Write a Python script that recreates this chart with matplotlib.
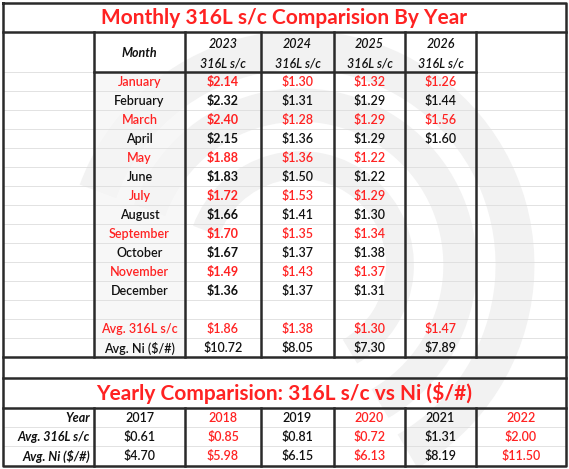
import matplotlib
matplotlib.use("Agg")
import matplotlib.pyplot as plt
from matplotlib.patches import Arc

months = ["January","February","March","April","May","June","July","August",
          "September","October","November","December"]
years_m = ["2023","2024","2025","2026"]
v2023 = ["$2.14","$2.32","$2.40","$2.15","$1.88","$1.83","$1.72","$1.66","$1.70","$1.67","$1.49","$1.36"]
v2024 = ["$1.30","$1.31","$1.28","$1.36","$1.36","$1.50","$1.53","$1.41","$1.35","$1.37","$1.43","$1.37"]
v2025 = ["$1.32","$1.29","$1.29","$1.29","$1.22","$1.22","$1.29","$1.30","$1.34","$1.38","$1.37","$1.31"]
v2026 = ["$1.26","$1.44","$1.56","$1.60","","","","","","","",""]
avg316 = ["$1.86","$1.38","$1.30","$1.47"]
avgni = ["$10.72","$8.05","$7.30","$7.89"]
years_y = ["2017","2018","2019","2020","2021","2022"]
y316 = ["$0.61","$0.85","$0.81","$0.72","$1.31","$2.00"]
yni = ["$4.70","$5.98","$6.15","$6.13","$8.19","$11.50"]

RED = "#ff2222"; BLK = "#111111"; LINE = "#2a2a2a"
plt.rcParams['font.family'] = ['Lato', 'DejaVu Sans']
fig = plt.figure(figsize=(5.69, 4.69), dpi=100)
ax = fig.add_axes([0, 0, 1, 1])
ax.set_xlim(0, 569); ax.set_ylim(469, 0); ax.axis('off')

# watermark
for r, w in [(215, 28), (160, 24), (100, 20)]:
    ax.add_patch(Arc((300, 265), 2*r, 2*r, theta1=200, theta2=60, color="#f2f2f2", lw=w, zorder=0))
ax.add_patch(plt.Rectangle((94, 72), 91, 285, color="#f5f5f5", zorder=0.5, alpha=0.7))

cols = [94, 185, 261, 334, 405, 476, 566]
rowh = 19
for k in range(16):
    y = 72.5 + k*rowh
    ax.plot([3, 566], [y, y], color="#dddddd", lw=0.6, zorder=1)
for y in [427.5, 446.5]:
    ax.plot([3, 566], [y, y], color="#dddddd", lw=0.6, zorder=1)

ax.plot([3, 566, 566, 3, 3], [3, 3, 466, 466, 3], color=LINE, lw=1.8, zorder=3)
for y in [32, 357, 378, 408]:
    ax.plot([3, 566], [y, y], color=LINE, lw=1.8, zorder=3)
ax.plot([94, 476], [72, 72], color=LINE, lw=1.8, zorder=3)
for x in cols[:6]:
    ax.plot([x, x], [32, 357], color=LINE, lw=1.8, zorder=3)
    ax.plot([x, x], [408, 466], color=LINE, lw=1.8, zorder=3)

ax.text(284, 18, "Monthly 316L s/c Comparision By Year", color=RED, fontsize=15, weight='bold', ha='center', va='center')
ax.text(284, 393, "Yearly Comparision: 316L s/c vs Ni ($/#)", color=RED, fontsize=15, weight='bold', ha='center', va='center')

fs = 9
ax.text(139.5, 53, "Month", fontsize=fs, style='italic', weight='bold', ha='center', va='center', color=BLK)
for i, yr in enumerate(years_m):
    cx = (cols[i+1] + cols[i+2]) / 2
    ax.text(cx, 44, yr, fontsize=fs, style='italic', weight='semibold', ha='center', va='center', color=BLK)
    ax.text(cx, 63, "316L s/c", fontsize=fs, style='italic', weight='semibold', ha='center', va='center', color=BLK)

series = [v2023, v2024, v2025, v2026]
for r, m in enumerate(months):
    y = 82 + r*rowh
    c = RED if r % 2 == 0 else BLK
    ax.text(139.5, y, m, fontsize=fs, ha='center', va='center', color=c, weight='semibold')
    for i, s in enumerate(series):
        cx = (cols[i+1] + cols[i+2]) / 2
        ax.text(cx, y, s[r], fontsize=fs, ha='center', va='center', color=c,
                weight='bold' if i == 0 else 'semibold')
ya, yn = 82 + 13*rowh, 82 + 14*rowh
ax.text(139.5, ya, "Avg. 316L s/c", fontsize=fs, ha='center', va='center', color=RED, weight='semibold')
ax.text(139.5, yn, "Avg. Ni ($/#)", fontsize=fs, ha='center', va='center', color=BLK, weight='semibold')
for i in range(4):
    cx = (cols[i+1] + cols[i+2]) / 2
    ax.text(cx, ya, avg316[i], fontsize=fs, ha='center', va='center', color=RED, weight='semibold')
    ax.text(cx, yn, avgni[i], fontsize=fs, ha='center', va='center', color=BLK, weight='semibold')

labels = ["Year", "Avg. 316L s/c", "Avg. Ni ($/#)"]
rows = [years_y, y316, yni]
for j, (lab, vals) in enumerate(zip(labels, rows)):
    y = 418 + j*19
    ax.text(90, y, lab, fontsize=fs, style='italic', weight='bold', ha='right', va='center', color=BLK)
    for i, v in enumerate(vals):
        cx = (cols[i] + cols[i+1]) / 2
        ax.text(cx, y, v, fontsize=fs, ha='center', va='center', weight='semibold',
                color=RED if i % 2 == 1 else BLK)

fig.savefig("out.png", dpi=100, facecolor="white")
